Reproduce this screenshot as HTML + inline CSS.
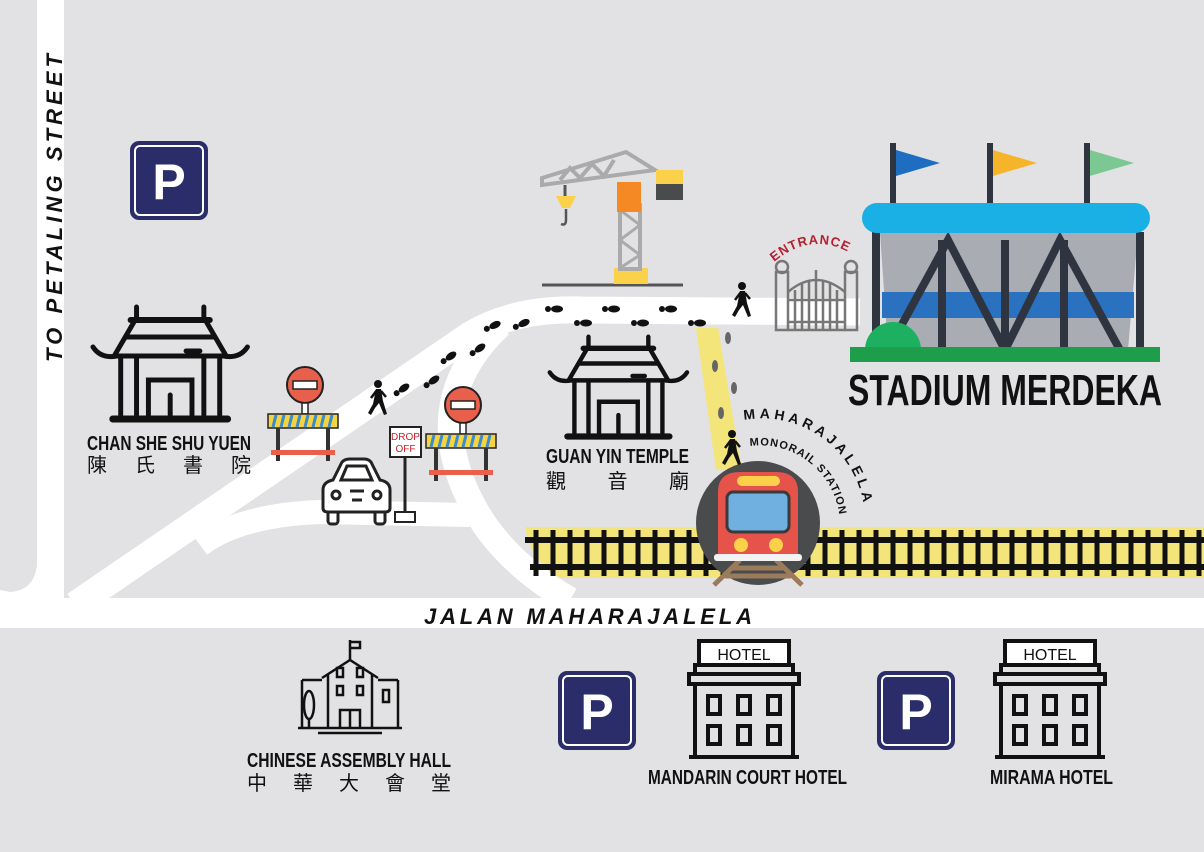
<!DOCTYPE html>
<html><head><meta charset="utf-8"><style>
html,body{margin:0;padding:0;background:#e2e2e4;}
svg{display:block}
.t{font-family:"Liberation Sans","Noto Sans CJK TC",sans-serif;font-weight:bold;fill:#111}
.c{font-family:"Liberation Sans","Noto Sans CJK TC",sans-serif;fill:#111}
</style></head><body>
<svg width="1204" height="852" viewBox="0 0 1204 852" xmlns="http://www.w3.org/2000/svg">
<defs>
<g id="temple" fill="none" stroke="#111" stroke-linecap="round">
 <path d="M46 2 L46 15 M114 2 L114 15" stroke-width="5"/>
 <path d="M40 15 L120 15" stroke-width="6"/>
 <path d="M44 16 L24 50 M116 16 L136 50" stroke-width="5"/>
 <path d="M36 32 L124 32" stroke-width="5"/>
 <path d="M2 42 Q10 54 26 51 L134 51 Q150 54 158 42" stroke-width="5"/>
 <path d="M96 46 L110 46" stroke-width="5"/>
 <path d="M30 53 L30 110 M46 53 L46 110 M114 53 L114 110 M130 53 L130 110" stroke-width="5"/>
 <path d="M58 110 L58 75 L102 75 L102 110 M80 90 L80 110" stroke-width="5"/>
 <path d="M22 114 L138 114" stroke-width="7"/>
</g>
<g id="park">
 <rect x="0" y="0" width="78" height="79" rx="9" fill="#2b2d6b"/>
 <rect x="5" y="5" width="68" height="69" rx="5" fill="none" stroke="#fff" stroke-width="2"/>
 <text x="39" y="58" text-anchor="middle" font-family="Liberation Sans,sans-serif" font-weight="bold" font-size="50" fill="#fff">P</text>
</g>
<g id="hotel" fill="none" stroke="#111" stroke-width="4">
 <rect x="10" y="2" width="90" height="24" fill="#fff"/>
 <text x="55" y="21" text-anchor="middle" font-family="Liberation Sans,sans-serif" font-size="16" fill="#111" stroke="none">HOTEL</text>
 <rect x="6" y="26" width="98" height="9"/>
 <rect x="0" y="35" width="110" height="10"/>
 <path d="M6 45 L6 118 M104 45 L104 118 M0 118 L110 118"/>
 <rect x="19" y="57" width="12" height="18"/><rect x="49" y="57" width="12" height="18"/><rect x="79" y="57" width="12" height="18"/>
 <rect x="19" y="87" width="12" height="18"/><rect x="49" y="87" width="12" height="18"/><rect x="79" y="87" width="12" height="18"/>
</g>
<g id="barrier">
 <circle cx="37" cy="0" r="18" fill="#e8604c" stroke="#222" stroke-width="2"/>
 <rect x="25" y="-4" width="24" height="8" fill="#fff" stroke="#222" stroke-width="1.5"/>
 <rect x="34" y="18" width="6" height="11" fill="#fff" stroke="#222" stroke-width="1.5"/>
 <rect x="0" y="29" width="70" height="14" fill="#f5d442" stroke="#222" stroke-width="1.5"/>
 <path d="M8 30 L5 42 M16 30 L13 42 M24 30 L21 42 M32 30 L29 42 M40 30 L37 42 M48 30 L45 42 M56 30 L53 42 M64 30 L61 42" stroke="#3b8bd0" stroke-width="3"/>
 <path d="M10 43 L10 76 M60 43 L60 76" stroke="#333" stroke-width="4"/>
 <rect x="3" y="65" width="64" height="5" fill="#e8604c"/>
</g>
<g id="walker" fill="#111">
 <circle cx="0" cy="-14" r="4"/>
 <path d="M-2 -9 L3 -9 L5 3 L9 16 L6 17 L1 5 L-3 10 L-7 17 L-10 15 L-5 6 Z"/>
 <path d="M-1 -8 L-7 0 M3 -7 L8 -1" stroke="#111" stroke-width="2.5"/>
</g>
<g id="fp" fill="#111"><ellipse cx="0" cy="0" rx="6" ry="3.5"/><ellipse cx="-9" cy="0" rx="3" ry="3"/></g>
</defs>

<rect width="1204" height="852" fill="#e2e2e4"/>
<rect x="37" y="0" width="27" height="628" fill="#fff"/>
<rect x="0" y="598" width="1204" height="30" fill="#fff"/>
<path d="M0 590 L0 600 L37 600 L37 560 Q37 590 10 592 Z" fill="#fff"/>
<path d="M75 605 L470 335 Q515 308 580 310 L860 312" fill="none" stroke="#fff" stroke-width="27"/>
<path d="M500 325 Q420 400 470 500 Q500 560 570 600" fill="none" stroke="#fff" stroke-width="26"/>
<path d="M200 545 Q240 515 320 512 L470 515" fill="none" stroke="#fff" stroke-width="24"/>
<polygon points="696,328 718,328 742,470 716,470" fill="#f4e57a"/>
<path d="M540 527 L1204 527 L1204 578 L560 578 Q530 560 525 527 Z" fill="#f4e57a"/>
<g stroke="#111" stroke-width="6">
 <line x1="525" y1="540" x2="1204" y2="540"/><line x1="530" y1="567" x2="1204" y2="567"/>
</g>
<g stroke="#111" stroke-width="5">
 <path d="M536 530V576M553 530V576M570 530V576M587 530V576M604 530V576M621 530V576M638 530V576M655 530V576M672 530V576M689 530V576M706 530V576M723 530V576M740 530V576M757 530V576M774 530V576M791 530V576M808 530V576M825 530V576M842 530V576M859 530V576M876 530V576M893 530V576M910 530V576M927 530V576M944 530V576M961 530V576M978 530V576M995 530V576M1012 530V576M1029 530V576M1046 530V576M1063 530V576M1080 530V576M1097 530V576M1114 530V576M1131 530V576M1148 530V576M1165 530V576M1182 530V576M1199 530V576"/>
</g>
<circle cx="758" cy="523" r="62" fill="#4a4b4d"/>
<path d="M740 560 L714 585 M776 560 L802 585 M732 568 H784 M725 576 H791" stroke="#9b7b5a" stroke-width="5"/>
<path d="M718 560 L718 492 Q718 472 740 472 L776 472 Q798 472 798 492 L798 560 Z" fill="#e5534b"/>
<rect x="737" y="476" width="43" height="10" rx="5" fill="#fcd14a"/>
<rect x="727" y="492" width="62" height="40" rx="6" fill="#6fb0e0" stroke="#3a3a3a" stroke-width="3"/>
<circle cx="741" cy="545" r="7" fill="#fcd14a"/><circle cx="776" cy="545" r="7" fill="#fcd14a"/>
<rect x="714" y="554" width="88" height="7" rx="3" fill="#f3f3f3"/>
<path id="arc1" d="M744 420 A103 103 0 0 1 864 536" fill="none"/>
<path id="arc2" d="M750 446 A80 80 0 0 1 840 524" fill="none"/>
<text class="t" font-size="14" letter-spacing="4"><textPath href="#arc1">MAHARAJALELA</textPath></text>
<text class="t" font-size="11" letter-spacing="1"><textPath href="#arc2">MONORAIL STATION</textPath></text>

<use href="#park" x="130" y="141"/>
<use href="#park" x="558" y="671"/>
<use href="#park" x="877" y="671"/>

<use href="#temple" transform="translate(91,305) scale(0.99,1)"/>
<use href="#temple" transform="translate(548,335) scale(0.88,0.89)"/>
<text class="t" x="87" y="450" font-size="20" textLength="164" lengthAdjust="spacingAndGlyphs">CHAN SHE SHU YUEN</text>
<text class="c" x="87" y="472" font-size="20" textLength="164" lengthAdjust="spacing">陳氏書院</text>
<text class="t" x="546" y="463" font-size="20" textLength="143" lengthAdjust="spacingAndGlyphs">GUAN YIN TEMPLE</text>
<text class="c" x="546" y="488" font-size="20" textLength="143" lengthAdjust="spacing">觀音廟</text>

<line x1="542" y1="285" x2="683" y2="285" stroke="#555" stroke-width="3"/>
<rect x="614" y="268" width="34" height="16" fill="#fcd14a"/>
<rect x="620" y="205" width="20" height="64" fill="none" stroke="#aaa" stroke-width="4"/>
<path d="M620 210 L640 225 L620 240 L640 255 L620 268" stroke="#aaa" stroke-width="3" fill="none"/>
<path d="M542 178 L626 152 L655 170 L542 185 Z M560 180 L570 168 L580 178 L592 164 L604 176 L614 160" fill="none" stroke="#aaa" stroke-width="4"/>
<rect x="617" y="182" width="24" height="30" fill="#f58a25"/>
<rect x="656" y="170" width="27" height="30" fill="#4a4b4d"/><rect x="656" y="170" width="27" height="14" fill="#fcd14a"/>
<line x1="565" y1="185" x2="565" y2="196" stroke="#555" stroke-width="3"/>
<path d="M556 196 L576 196 L570 208 L562 208 Z" fill="#fcd14a"/>
<path d="M566 209 L566 220 Q566 226 561 224" stroke="#555" stroke-width="2.5" fill="none"/>

<use href="#fp" transform="translate(404,388) rotate(-35)"/>
<use href="#fp" transform="translate(434,380) rotate(-35)"/>
<use href="#fp" transform="translate(451,356) rotate(-35)"/>
<use href="#fp" transform="translate(480,348) rotate(-35)"/>
<use href="#fp" transform="translate(495,325) rotate(-25)"/>
<use href="#fp" transform="translate(524,323) rotate(-25)"/>
<use href="#fp" transform="translate(557,309)"/>
<use href="#fp" transform="translate(586,323)"/>
<use href="#fp" transform="translate(614,309)"/>
<use href="#fp" transform="translate(643,323)"/>
<use href="#fp" transform="translate(671,309)"/>
<use href="#fp" transform="translate(700,323)"/>
<g fill="#666"><ellipse cx="728" cy="338" rx="3" ry="6"/><ellipse cx="715" cy="366" rx="3" ry="6"/><ellipse cx="734" cy="388" rx="3" ry="6"/><ellipse cx="721" cy="413" rx="3" ry="6"/></g>
<use href="#walker" x="378" y="398"/>
<use href="#walker" x="742" y="300"/>
<use href="#walker" x="732" y="448"/>

<use href="#barrier" x="268" y="385"/>
<use href="#barrier" x="426" y="405"/>
<rect x="390" y="427" width="31" height="30" fill="#fff" stroke="#222" stroke-width="2"/>
<text x="405.5" y="440" text-anchor="middle" font-family="Liberation Sans,sans-serif" font-size="10" fill="#c8202e">DROP</text>
<text x="405.5" y="452" text-anchor="middle" font-family="Liberation Sans,sans-serif" font-size="10" fill="#c8202e">OFF</text>
<line x1="405" y1="457" x2="405" y2="513" stroke="#222" stroke-width="3"/>
<rect x="395" y="512" width="20" height="10" fill="#fff" stroke="#222" stroke-width="2"/>
<g fill="#fff" stroke="#222" stroke-width="3">
 <rect x="328" y="510" width="10" height="14" rx="3"/><rect x="375" y="510" width="10" height="14" rx="3"/>
 <path d="M333 480 L341 464 Q343 459 350 459 L364 459 Q370 459 372 464 L380 480 Q390 482 390 490 L390 508 Q390 512 385 512 L328 512 Q323 512 323 508 L323 490 Q323 482 333 480 Z"/>
 <path d="M341 480 L347 466 L366 466 L372 480 Z"/>
 <circle cx="336" cy="495" r="4"/><circle cx="377" cy="495" r="4"/>
 <path d="M350 491 H364 M352 500 H362" />
</g>

<g fill="none" stroke="#777" stroke-width="2.5">
 <rect x="776" y="272" width="12" height="58"/><rect x="845" y="272" width="12" height="58"/>
 <circle cx="782" cy="267" r="6"/><circle cx="851" cy="267" r="6"/>
 <path d="M788 292 Q816 268 845 292 M788 330 L845 330 M795 290 L795 330 M802 283 L802 330 M809 280 L809 330 M816 270 L816 330 M823 280 L823 330 M830 283 L830 330 M837 290 L837 330 M788 300 H845 M788 322 H845"/>
</g>
<path id="arcE" d="M774 262 Q815 228 858 258" fill="none"/>
<text font-family="Liberation Sans,sans-serif" font-weight="bold" font-size="13" fill="#b5202e" letter-spacing="1"><textPath href="#arcE">ENTRANCE</textPath></text>

<g stroke="#2f3540" stroke-width="6">
 <line x1="893" y1="143" x2="893" y2="210"/><line x1="990" y1="143" x2="990" y2="210"/><line x1="1087" y1="143" x2="1087" y2="210"/>
</g>
<polygon points="896,150 940,163 896,176" fill="#1f6dc0"/>
<polygon points="993,150 1037,163 993,176" fill="#f6b42a"/>
<polygon points="1090,150 1134,163 1090,176" fill="#7cc892"/>
<polygon points="880,232 1138,232 1128,350 888,350" fill="#a9adb3"/>
<rect x="882" y="292" width="252" height="26" fill="#2a72c0"/>
<g stroke="#2f3540" stroke-width="8" fill="none">
 <path d="M876 232 L876 350 M1140 232 L1140 350"/>
 <path d="M888 350 L948 240 L1005 350 L1060 240 L1120 350"/>
 <path d="M942 240 L942 350 M1064 240 L1064 350 M1005 240 L1005 350"/>
</g>
<rect x="862" y="203" width="288" height="30" rx="15" fill="#1ab0e6"/>
<path d="M865 350 A28 28 0 0 1 921 350 Z" fill="#1db060"/>
<rect x="850" y="347" width="310" height="15" fill="#1e9e4a"/>
<text class="t" x="848" y="405" font-size="44" textLength="314" lengthAdjust="spacingAndGlyphs">STADIUM MERDEKA</text>

<text class="t" x="424" y="624" font-size="22" font-style="italic" textLength="328" lengthAdjust="spacing">JALAN MAHARAJALELA</text>
<text class="t" font-size="22" font-style="italic" transform="translate(62,362) rotate(-90)" textLength="308" lengthAdjust="spacing">TO PETALING STREET</text>

<g fill="none" stroke="#111" stroke-width="2.5">
 <path d="M350 640 L350 660 M350 642 L360 642 L360 648 L350 648"/>
 <path d="M322 678 L350 660 L378 678 M328 674 L328 728 M372 674 L372 728"/>
 <path d="M302 680 L302 728 M302 680 L322 680 M398 680 L398 728 M378 680 L398 680"/>
 <rect x="337" y="668" width="6" height="9"/><rect x="357" y="668" width="6" height="9"/>
 <rect x="337" y="686" width="6" height="9"/><rect x="357" y="686" width="6" height="9"/>
 <rect x="383" y="690" width="6" height="12"/>
 <path d="M340 728 L340 710 L360 710 L360 728 M350 710 V728"/>
 <ellipse cx="309" cy="705" rx="5" ry="14"/><path d="M309 719 V728"/>
 <path d="M298 728 H402 M318 733 H382"/>
</g>
<text class="t" x="247" y="767" font-size="20" textLength="204" lengthAdjust="spacingAndGlyphs">CHINESE ASSEMBLY HALL</text>
<text class="c" x="247" y="790" font-size="20" textLength="204" lengthAdjust="spacing">中華大會堂</text>

<use href="#hotel" x="689" y="639"/>
<use href="#hotel" x="995" y="639"/>
<text class="t" x="648" y="784" font-size="20" textLength="199" lengthAdjust="spacingAndGlyphs">MANDARIN COURT HOTEL</text>
<text class="t" x="990" y="784" font-size="20" textLength="123" lengthAdjust="spacingAndGlyphs">MIRAMA HOTEL</text>
</svg>
</body></html>
